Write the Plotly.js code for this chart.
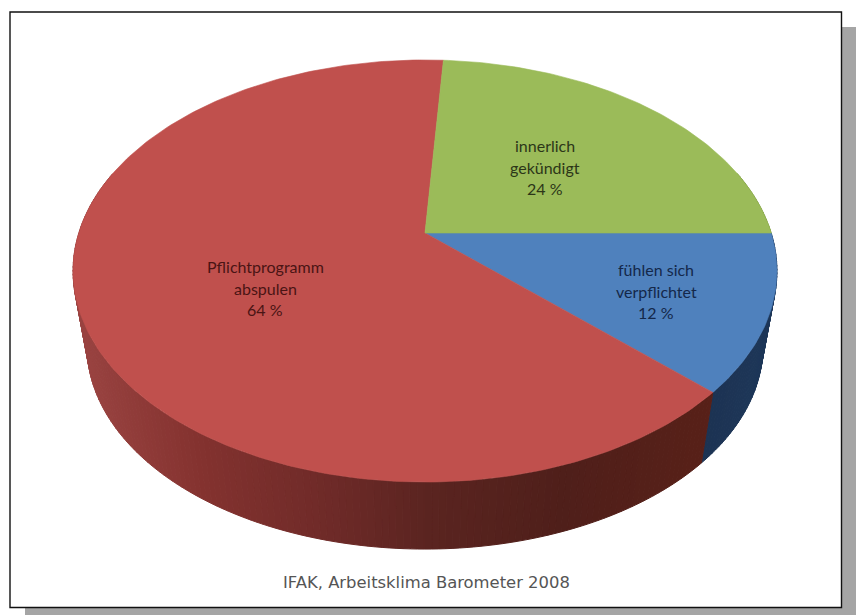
<!DOCTYPE html>
<html>
<head>
<meta charset="utf-8">
<script src="https://cdn.plot.ly/plotly-3.0.1.min.js"></script>
<style>html,body{margin:0;padding:0;background:#fff}#chart{width:856px;height:615px}</style>
</head>
<body>
<div id="chart"></div>
<script>
// Survey shares, listed clockwise from the 3 o'clock direction
const categories = ['fühlen sich verpflichtet', 'Pflichtprogramm abspulen', 'innerlich gekündigt'];
const shares = [12, 64, 24];
const topColors = ['#4f81bd', '#c0504d', '#9bbb59'];
const labelColors = ['#14284a', '#4a1414', '#2c3618'];
const captionText = 'IFAK, Arbeitsklima Barometer 2008';

// Label lines for each slice, drawn centred on the slice
const labelLines = [['fühlen sich', 'verpflichtet', '12 %'], ['Pflichtprogramm', 'abspulen', '64 %'], ['innerlich', 'gekündigt', '24 %']];
const labelCentres = [[656, 291], [265, 288], [545, 167]];

// Tilted disc: a circle seen through a perspective projection
const disc = {cx: 425, cy: 233, a: 346.2, b: 204.2, k: 0.18};
const base = {cy: 310, scale: 0.96};

function topPoint(deg) {
  const t = deg * Math.PI / 180, u = Math.cos(t), v = Math.sin(t), w = 1 + disc.k * v;
  return [disc.cx + disc.a * u / w, disc.cy - disc.b * v / w];
}
function basePoint(deg) {
  const p = topPoint(deg);
  return [disc.cx + (p[0] - disc.cx) * base.scale, base.cy + (p[1] - disc.cy) * base.scale];
}
function mix(stops, x) {
  let i = 0;
  while (i < stops.length - 2 && x > stops[i + 1][0]) i++;
  const s0 = stops[i], s1 = stops[i + 1];
  const f = Math.min(1, Math.max(0, (x - s0[0]) / (s1[0] - s0[0])));
  const c = [1, 2, 3].map(j => Math.round(s0[j] + (s1[j] - s0[j]) * f));
  return 'rgb(' + c.join(',') + ')';
}

// Side shading runs from left to right across the wall
const wallShades = [
  [[700, 28, 50, 82], [780, 30, 56, 90]],
  [[75, 155, 68, 66], [200, 132, 50, 47], [330, 110, 42, 40], [430, 90, 36, 32], [560, 79, 31, 26], [710, 88, 32, 24]],
  [[0, 120, 150, 60], [856, 120, 150, 60]]
];

const total = shares.reduce((a, b) => a + b, 0);
const traces = [];
const labels = [];
let angle = 0;

shares.forEach((share, i) => {
  const sweep = share / total * 360;
  const from = angle, to = angle - sweep;

  // Wall strips below the rim, only on the side facing the viewer
  const steps = Math.ceil(sweep);
  for (let s = 0; s < steps; s++) {
    const d0 = from - sweep * s / steps, d1 = from - sweep * (s + 1) / steps;
    if (Math.sin(d0 * Math.PI / 180) > 0.3 && Math.sin(d1 * Math.PI / 180) > 0.3) continue;
    const a0 = topPoint(d0), a1 = topPoint(d1), b0 = basePoint(d0), b1 = basePoint(d1);
    const col = mix(wallShades[i], (a0[0] + a1[0] + b0[0] + b1[0]) / 4);
    traces.push({
      type: 'scatter', mode: 'lines', fill: 'toself', fillcolor: col,
      x: [a0[0], a1[0], b1[0], b0[0], a0[0]],
      y: [a0[1], a1[1], b1[1], b0[1], a0[1]],
      line: {color: col, width: 1}, hoverinfo: 'skip', showlegend: false
    });
  }
  angle = to;
});

// Top faces sit above every wall strip
angle = 0;
shares.forEach((share, i) => {
  const sweep = share / total * 360;
  const xs = [disc.cx], ys = [disc.cy];
  const steps = Math.ceil(sweep);
  for (let s = 0; s <= steps; s++) {
    const p = topPoint(angle - sweep * s / steps);
    xs.push(p[0]); ys.push(p[1]);
  }
  xs.push(disc.cx); ys.push(disc.cy);
  traces.push({
    type: 'scatter', mode: 'lines', fill: 'toself', fillcolor: topColors[i],
    x: xs, y: ys, name: categories[i],
    line: {color: topColors[i], width: 0.6}, hoverinfo: 'name', showlegend: false
  });
  labelLines[i].forEach((line, j) => {
    labels.push({
      x: labelCentres[i][0], y: labelCentres[i][1] + (j - 1) * 21.5, text: line,
      showarrow: false, xanchor: 'center', yanchor: 'middle',
      font: {family: 'Lato, sans-serif', size: 16, color: labelColors[i]}
    });
  });
  angle -= sweep;
});

labels.push({
  x: 426, y: 582, text: captionText, showarrow: false, xanchor: 'center', yanchor: 'middle',
  font: {family: 'DejaVu Sans, sans-serif', size: 16.4, color: '#555555'}
});

const layout = {
  width: 856, height: 615,
  margin: {l: 0, r: 0, t: 0, b: 0},
  paper_bgcolor: '#ffffff', plot_bgcolor: 'rgba(0,0,0,0)',
  showlegend: false,
  xaxis: {range: [0, 856], visible: false, fixedrange: true},
  yaxis: {range: [615, 0], visible: false, fixedrange: true},
  annotations: labels,
  shapes: [
    {type: 'rect', layer: 'below', xref: 'x', yref: 'y', x0: 25, x1: 856, y0: 27, y1: 615, fillcolor: '#a5a5a5', line: {width: 0}},
    {type: 'rect', layer: 'below', xref: 'x', yref: 'y', x0: 10, x1: 841.5, y0: 12, y1: 607.5, fillcolor: '#ffffff', line: {color: '#111111', width: 1.4}}
  ]
};

Plotly.newPlot('chart', traces, layout, {displayModeBar: false, staticPlot: true});
</script>
</body>
</html>
